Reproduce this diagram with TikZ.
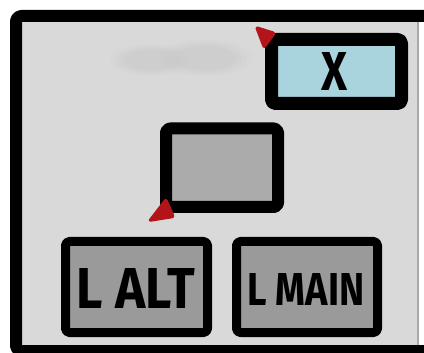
\documentclass[tikz,border=0pt]{standalone}
\usepackage{fontspec}
\setmainfont{Fira Sans}
\definecolor{panelgray}{HTML}{D9D9D9}
\definecolor{edgegray}{HTML}{A8A8A8}
\definecolor{closeblue}{HTML}{A9D3DD}
\definecolor{slotgray}{HTML}{ABABAB}
\definecolor{keygray}{HTML}{9A9A9A}
\definecolor{markred}{HTML}{B3141A}
\definecolor{smudge}{HTML}{C9C9C9}
\tikzset{
  frame/.style={draw=black, line width=12pt, rounded corners=5pt, line join=round},
  boxstyle/.style={draw=black, rounded corners=4pt, line join=round},
  marker/.style={fill=markred, draw=markred, line width=2pt, line join=round, rounded corners=2pt},
  lettering/.style={inner sep=0pt, font=\bfseries}
}
\begin{document}
\begin{tikzpicture}[x=1pt, y=-1pt]
  \useasboundingbox (0,0) rectangle (424,353);
  \fill[white] (0,0) rectangle (424,353);
  \clip (0,0) rectangle (424,353);

  % window panel: heavy outline on top, left and bottom, thin edge on the right
  \fill[panelgray] (16,16) rectangle (418,351);
  \draw[edgegray, line width=1.2pt] (418,22) -- (418,345);
  \draw[frame] (430,16) -- (16,16) -- (16,351) -- (430,351);

  % blurred title smudge
  \foreach \r/\o in {1.25/0.12, 1.1/0.18, 0.95/0.25, 0.8/0.3} {
    \fill[smudge, opacity=\o] (150,60) ellipse ({32*\r} and {13*\r});
    \fill[smudge, opacity=\o] (205,58) ellipse ({38*\r} and {15*\r});
  }

  % close button
  \draw[boxstyle, fill=closeblue, line width=13pt] (271.5,39.5) rectangle (401.5,103.5);
  \node[lettering] (xlabel) at (335,71) {\resizebox{26pt}{38pt}{X}};

  % empty slot
  \draw[boxstyle, fill=slotgray, line width=12pt] (166,128.5) rectangle (278,207);

  % key buttons
  \draw[boxstyle, fill=keygray, line width=9pt] (65.5,241.5) rectangle (207.5,332.5);
  \draw[boxstyle, fill=keygray, line width=9pt] (236.5,241.5) rectangle (377.5,332.5);
  \node[lettering] (lalt) at (136,288) {\resizebox{118pt}{40pt}{L ALT}};
  \node[lettering] (lmain) at (306,289) {\resizebox{117pt}{32pt}{L MAIN}};

  % red corner markers
  \draw[marker] (256,27) -- (275,33) -- (264,48) -- cycle;
  \draw[marker] (149,221) -- (166,199) -- (174,217) -- cycle;
\end{tikzpicture}
\end{document}
